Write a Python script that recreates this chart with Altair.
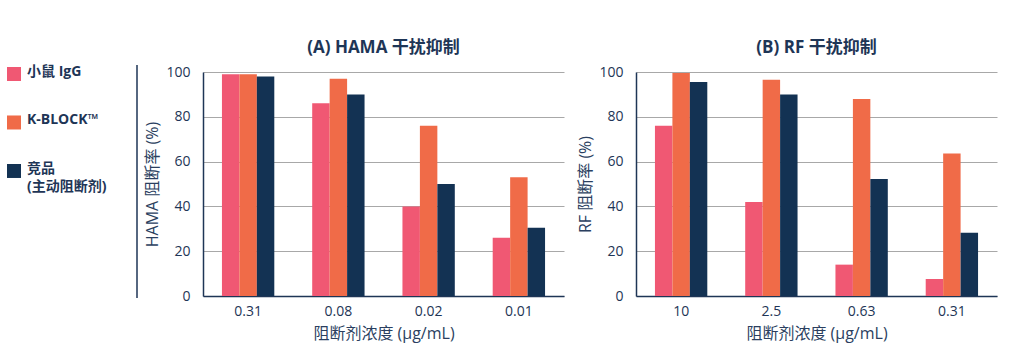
import altair as alt
import pandas as pd

series = ["小鼠 IgG", "K-BLOCK™", "竞品\n(主动阻断剂)"]
colors = ["#F05873", "#F06B48", "#133253"]

cats_a = ["0.31", "0.08", "0.02", "0.01"]
mouse_a = [99, 86, 40, 26]
kblock_a = [99, 97, 76, 53]
comp_a = [98, 90, 50, 30.5]

cats_b = ["10", "2.5", "0.63", "0.31"]
mouse_b = [76, 42, 14, 7.6]
kblock_b = [99.5, 96.5, 88, 63.6]
comp_b = [95.5, 90, 52.2, 28.2]

FONT = "'Open Sans', 'Noto Sans CJK SC', sans-serif"
NAVY = "#1E3556"


def long_df(cats, a, b, c):
    rows = []
    for i, cat in enumerate(cats):
        for s, vals in zip(series, [a, b, c]):
            rows.append({"cat": cat, "series": s, "value": vals[i]})
    return pd.DataFrame(rows)


def panel(df, cats, title, ytitle):
    return alt.Chart(df, title=alt.Title(title, fontSize=17, fontWeight="bold", color=NAVY, font=FONT, offset=8)).mark_bar().encode(
        x=alt.X("cat:N", sort=cats, scale=alt.Scale(paddingInner=0.42, paddingOuter=0.21),
                axis=alt.Axis(title="阻断剂浓度 (μg/mL)", labelAngle=0, ticks=False, labelPadding=8,
                              titlePadding=7, domainColor=NAVY, domainWidth=1.5)),
        xOffset=alt.XOffset("series:N", sort=series),
        y=alt.Y("value:Q", scale=alt.Scale(domain=[0, 100], nice=False),
                axis=alt.Axis(title=ytitle, values=[0, 20, 40, 60, 80, 100], ticks=False, labelPadding=13,
                              titlePadding=5, domainColor=NAVY, domainWidth=1.5, gridColor="#A8A8A8")),
        color=alt.Color("series:N", sort=series, scale=alt.Scale(domain=series, range=colors), legend=None),
    ).properties(width=361, height=224)


pa = panel(long_df(cats_a, mouse_a, kblock_a, comp_a), cats_a, "(A) HAMA 干扰抑制", "HAMA 阻断率 (%)")
pb = panel(long_df(cats_b, mouse_b, kblock_b, comp_b), cats_b, "(B) RF 干扰抑制", "RF 阻断率 (%)")

leg_df = pd.DataFrame({"series": series, "idx": [0, 1, 2]})
yscale = alt.Scale(domain=[0, 4.62], range=[2, 226])
base = alt.Chart(leg_df, title=alt.Title(" ", fontSize=17, offset=8, font=FONT))
squares = base.mark_square(size=196, opacity=1).encode(
    x=alt.value(9),
    y=alt.Y("idx:Q", scale=yscale, axis=None),
    color=alt.Color("series:N", sort=series, scale=alt.Scale(domain=series, range=colors), legend=None),
)
labels = base.mark_text(align="left", baseline="top", dy=-9, fontSize=14, fontWeight="bold",
                        font=FONT, color=NAVY, lineBreak="\n", lineHeight=18).encode(
    x=alt.value(22),
    y=alt.Y("idx:Q", scale=yscale, axis=None),
    text="series:N",
)
vline = alt.Chart(pd.DataFrame({"a": [0]})).mark_rule(color=NAVY, strokeWidth=1.5).encode(
    x=alt.value(132), y=alt.value(-7), y2=alt.value(226)
)
legend = alt.layer(squares, labels, vline).properties(width=132, height=224)

chart = alt.hconcat(legend, alt.hconcat(pa, pb, spacing=13), spacing=6).configure_view(stroke=None).configure_axis(
    labelFont=FONT, titleFont=FONT, labelFontSize=14, titleFontSize=16, labelColor=NAVY, titleColor="#2B3F5F",
    titleFontWeight="normal",
).properties(padding={"left": 5, "right": 5, "top": 38, "bottom": 5})

chart.save("out.html", embed_options={"renderer": "svg", "actions": False})
